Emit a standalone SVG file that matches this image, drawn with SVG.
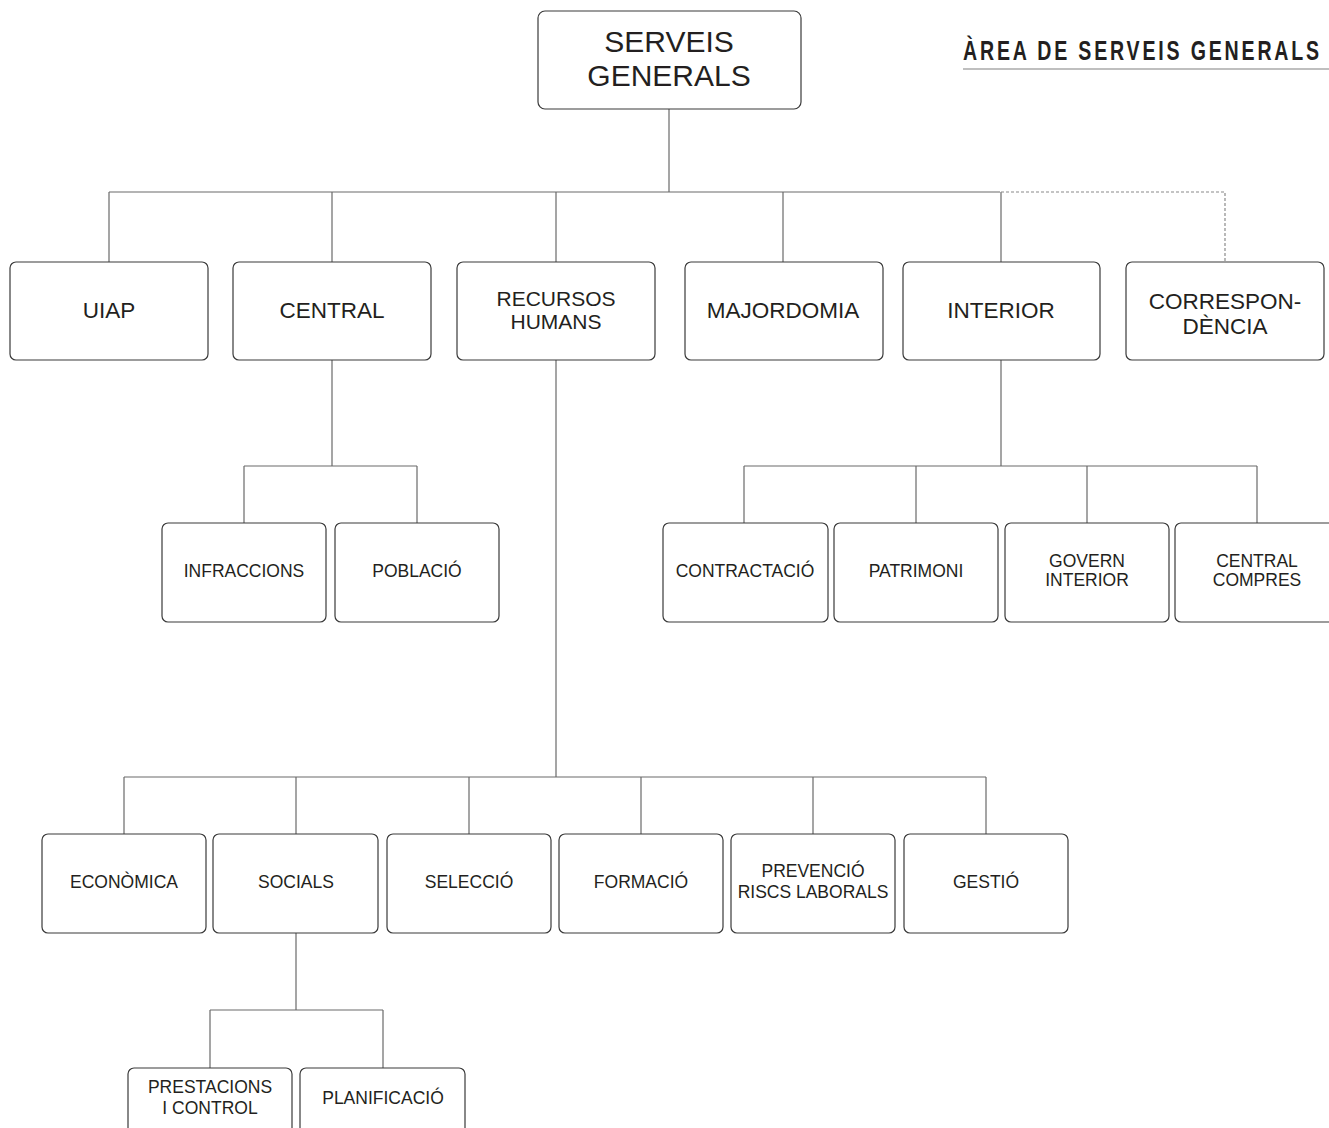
<svg xmlns="http://www.w3.org/2000/svg" width="1329" height="1128" viewBox="0 0 1329 1128">
<style>
.box{fill:#fff;stroke:#3a3a3a;stroke-width:1.2}
.t{font-family:"Liberation Sans",Arial,sans-serif;fill:#231f20;text-anchor:middle}
.l1{font-size:22.5px}
.l2{font-size:17.5px}
.top{font-size:30px}
.c{fill:none;stroke:#6a6a6a;stroke-width:1.2}
.d{fill:none;stroke:#8a8a8a;stroke-width:1.2;stroke-dasharray:3 2}
</style>
<rect width="1329" height="1128" fill="#fff"/>
<g id="title">
<text transform="translate(963,60) scale(0.7,1)" font-family="Liberation Sans,Arial,sans-serif" font-weight="bold" font-size="28" letter-spacing="4" fill="#231f20">ÀREA DE SERVEIS GENERALS</text>
<line x1="963" y1="69" x2="1329" y2="69" stroke="#aaa" stroke-width="1.5"/>
</g>
<g id="connectors">
<path class="c" d="M669 109V192M109 192H1000M109 192V262M332 192V262M556 192V262M783 192V262M1001 192V262"/>
<path class="d" d="M1001 192H1225V262"/>
<path class="c" d="M332 360V466M244 466H417M244 466V523M417 466V523"/>
<path class="c" d="M1001 360V466M744 466H1257M744 466V523M916 466V523M1087 466V523M1257 466V523"/>
<path class="c" d="M556 360V777M124 777H986M124 777V834M296 777V834M469 777V834M641 777V834M813 777V834M986 777V834"/>
<path class="c" d="M296 933V1010M210 1010H383M210 1010V1068M383 1010V1068"/>
</g>
<g id="serveis-generals"><rect class="box" x="538" y="11" width="263" height="98" rx="7"/><text class="t top" x="669" y="52">SERVEIS</text><text class="t top" x="669" y="86">GENERALS</text></g>
<g id="uiap"><rect class="box" x="10" y="262" width="198" height="98" rx="6"/><text class="t l1" x="109" y="318">UIAP</text></g>
<g id="central"><rect class="box" x="233" y="262" width="198" height="98" rx="6"/><text class="t l1" x="332" y="318">CENTRAL</text></g>
<g id="recursos-humans"><rect class="box" x="457" y="262" width="198" height="98" rx="6"/><text class="t" x="556" y="305.5" font-size="21">RECURSOS</text><text class="t" x="556" y="329" font-size="21">HUMANS</text></g>
<g id="majordomia"><rect class="box" x="685" y="262" width="198" height="98" rx="6"/><text class="t l1" x="783" y="318">MAJORDOMIA</text></g>
<g id="interior"><rect class="box" x="903" y="262" width="197" height="98" rx="6"/><text class="t l1" x="1001" y="318">INTERIOR</text></g>
<g id="correspondencia"><rect class="box" x="1126" y="262" width="198" height="98" rx="6"/><text class="t l1" x="1225" y="309">CORRESPON-</text><text class="t l1" x="1225" y="334">DÈNCIA</text></g>
<g id="infraccions"><rect class="box" x="162" y="523" width="164" height="99" rx="6"/><text class="t l2" x="244" y="577">INFRACCIONS</text></g>
<g id="poblacio"><rect class="box" x="335" y="523" width="164" height="99" rx="6"/><text class="t l2" x="417" y="577">POBLACIÓ</text></g>
<g id="contractacio"><rect class="box" x="663" y="523" width="165" height="99" rx="6"/><text class="t l2" x="745" y="577">CONTRACTACIÓ</text></g>
<g id="patrimoni"><rect class="box" x="834" y="523" width="164" height="99" rx="6"/><text class="t l2" x="916" y="577">PATRIMONI</text></g>
<g id="govern-interior"><rect class="box" x="1005" y="523" width="164" height="99" rx="6"/><text class="t l2" x="1087" y="567">GOVERN</text><text class="t l2" x="1087" y="586">INTERIOR</text></g>
<g id="central-compres"><rect class="box" x="1175" y="523" width="164" height="99" rx="6"/><text class="t l2" x="1257" y="567">CENTRAL</text><text class="t l2" x="1257" y="586">COMPRES</text></g>
<g id="economica"><rect class="box" x="42" y="834" width="164" height="99" rx="6"/><text class="t l2" x="124" y="888">ECONÒMICA</text></g>
<g id="socials"><rect class="box" x="213" y="834" width="165" height="99" rx="6"/><text class="t l2" x="296" y="888">SOCIALS</text></g>
<g id="seleccio"><rect class="box" x="387" y="834" width="164" height="99" rx="6"/><text class="t l2" x="469" y="888">SELECCIÓ</text></g>
<g id="formacio"><rect class="box" x="559" y="834" width="164" height="99" rx="6"/><text class="t l2" x="641" y="888">FORMACIÓ</text></g>
<g id="prevencio"><rect class="box" x="731" y="834" width="164" height="99" rx="6"/><text class="t l2" x="813" y="877">PREVENCIÓ</text><text class="t l2" x="813" y="898">RISCS LABORALS</text></g>
<g id="gestio"><rect class="box" x="904" y="834" width="164" height="99" rx="6"/><text class="t l2" x="986" y="888">GESTIÓ</text></g>
<g id="prestacions"><rect class="box" x="128" y="1068" width="164" height="99" rx="6"/><text class="t l2" x="210" y="1093">PRESTACIONS</text><text class="t l2" x="210" y="1114">I CONTROL</text></g>
<g id="planificacio"><rect class="box" x="300" y="1068" width="165" height="99" rx="6"/><text class="t l2" x="383" y="1104">PLANIFICACIÓ</text></g>
</svg>
